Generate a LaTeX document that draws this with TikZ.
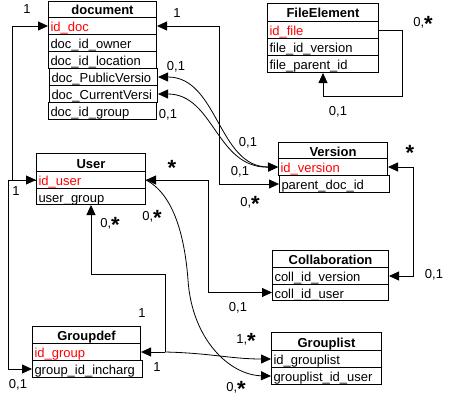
\documentclass[tikz,border=0pt]{standalone}
\usepackage{fontspec}
\setmainfont{Liberation Sans}
\usetikzlibrary{arrows.meta}
\newcommand{\myst}{\smash{\raisebox{-5pt}{\fontsize{22}{22}\selectfont\bfseries *}}}
\begin{document}
\begin{tikzpicture}[x=1pt,y=-1pt,
  >={Triangle[length=10pt,width=9pt]},
  cell/.style={draw, line width=1pt, anchor=north west, inner xsep=2pt, inner ysep=0pt,
    minimum height=17pt, text height=11pt, text depth=0pt, align=left,
    font=\fontsize{13}{14}\selectfont},
  key/.style={cell, text=red},
  hd/.style={cell, align=center, font=\fontsize{13}{14}\selectfont\bfseries},
  conn/.style={line width=0.8pt},
  lbl/.style={font=\fontsize{13}{14}\selectfont, inner sep=0pt}]
\useasboundingbox (0,0) rectangle (454,404);

% document
\node[hd, text width=104pt, minimum height=16pt] (doc) at (48,1) {document};
\node[key, text width=104pt] (docid) at (48,17) {id\_doc};
\node[cell, text width=104pt] (docowner) at (48,34) {doc\_id\_owner};
\node[cell, text width=104pt] (docloc) at (48,51) {doc\_id\_location};
\node[cell, text width=104pt] (docpub) at (49,68) {doc\_PublicVersio};
\node[cell, text width=104pt] (doccur) at (49,85) {doc\_CurrentVersi};
\node[cell, text width=104pt] (docgrp) at (48,102) {doc\_id\_group};

% FileElement
\node[hd, text width=107pt, minimum height=18pt] (fe) at (267,3) {FileElement};
\node[key, text width=107pt] (idfile) at (267,21) {id\_file};
\node[cell, text width=107pt] (fever) at (267,38) {file\_id\_version};
\node[cell, text width=107pt] (fparent) at (267,55) {file\_parent\_id};

% Version
\node[hd, text width=105pt, minimum height=16pt] (ver) at (278,142) {Version};
\node[key, text width=105pt] (idver) at (278,158) {id\_version};
\node[cell, text width=106pt] (parent) at (279,175) {parent\_doc\_id};

% User
\node[hd, text width=105pt, minimum height=18pt] (user) at (36,153) {User};
\node[key, text width=105pt] (iduser) at (36,171) {id\_user};
\node[cell, text width=105pt, minimum height=16pt] (ugroup) at (36,188) {user\_group};

% Collaboration
\node[hd, text width=112pt] (coll) at (272,250) {Collaboration};
\node[cell, text width=112pt] (collver) at (272,267) {coll\_id\_version};
\node[cell, text width=112pt, minimum height=16pt] (colluser) at (272,284) {coll\_id\_user};

% Groupdef
\node[hd, text width=104pt] (gd) at (32,326) {Groupdef};
\node[key, text width=104pt] (idgroup) at (32,343) {id\_group};
\node[cell, text width=106pt] (incharg) at (32,360) {group\_id\_incharg};

% Grouplist
\node[hd, text width=106pt, minimum height=18pt] (gl) at (271,332) {Grouplist};
\node[cell, text width=106pt] (idgl) at (271,350) {id\_grouplist};
\node[cell, text width=106pt] (gluser) at (271,367) {grouplist\_id\_user};

% connectors
\draw[conn,<->] (docid.west) -- ++(-36,0) |- (iduser.west);
\draw[conn,->] (iduser.west) -- ++(-28,0) |- (incharg.west);
\draw[conn,<->] (docid.east) -| ([xshift=-60pt]parent.west) -- (parent.west);
\draw[conn,<->] (docpub.east) .. controls +(60,0) and +(-60,0) .. (idver.west);
\draw[conn,<->] (doccur.east) .. controls +(56,0) and +(-62,1) .. (idver.west);
\draw[conn,<->] (iduser.east) -| ([xshift=-64pt]colluser.west) -- (colluser.west);
\draw[conn,->] (iduser.east) .. controls (175,195) and (185,240) .. (188,280)
   .. controls (192,340) and (230,375) .. (gluser.west);
\coordinate (j) at ([xshift=24pt]idgroup.east);
\draw[conn,<-] (ugroup.south) -- ++(0,69) -| (j);
\draw[conn,->] (j) -- (idgroup.east);
\draw[conn,->] (j) .. controls +(45,1) and +(-40,0) .. (idgl.west);
\draw[conn,->] (idfile.east) -- ++(23,0) |- ([yshift=-23pt]fparent.south) -- (fparent.south);
\draw[conn,<->] (idver.east) -- ++(25,0) |- (collver.east);

% labels
\node[lbl] (l1) at (27,9) {1};
\node[lbl] (l2) at (177,13) {1};
\node[lbl] (l3) at (176,67) {0,1};
\node[lbl] (l4) at (168,115) {0,1};
\node[lbl] (l5) at (423,23) {0,\myst};
\node[lbl] (l6) at (338,112) {0,1};
\node[lbl] (l7) at (248,143) {0,1};
\node[lbl] (l8) at (240,172) {0,1};
\node[lbl] (l9) at (250,203) {0,\myst};
\node[lbl] (l10) at (410,151) {\vphantom{0}\myst};
\node[lbl] (l11) at (172,166) {\vphantom{0}\myst};
\node[lbl] (l12) at (16,191) {1};
\node[lbl] (l13) at (110,224) {0,\myst};
\node[lbl] (l14) at (152,217) {0,\myst};
\node[lbl] (l15) at (238,308) {0,1};
\node[lbl] (l16) at (434,275) {0,1};
\node[lbl] (l17) at (142,313) {1};
\node[lbl] (l18) at (157,367) {1};
\node[lbl] (l19) at (246,340) {1,\myst};
\node[lbl] (l20) at (236,388) {0,\myst};
\node[lbl] (l21) at (18,385) {0,1};
\end{tikzpicture}
\end{document}
